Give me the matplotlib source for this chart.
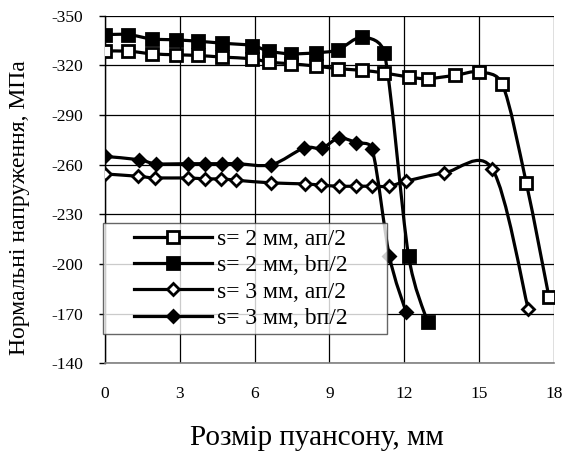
import numpy as np
import matplotlib
matplotlib.use("Agg")
import matplotlib.pyplot as plt
from matplotlib.path import Path
from matplotlib.patches import PathPatch
from matplotlib.lines import Line2D
from matplotlib.legend_handler import HandlerLine2D

plt.rcParams['font.family'] = ['Liberation Serif', 'DejaVu Serif']

# ---- data ----
x_s2a = [0, 0.93, 1.87, 2.84, 3.73, 4.69, 5.89, 6.56, 7.44, 8.44, 9.33, 10.31, 11.2, 12.17, 12.93, 14.04, 15.0, 15.93, 16.89, 17.8]
y_s2a = [-328.6, -328.6, -327, -326.4, -326, -325, -324, -322, -321, -319.6, -318, -317, -315.4, -313, -312, -314, -316, -308.6, -249, -180]

x_s2b = [0, 0.93, 1.87, 2.84, 3.73, 4.69, 5.89, 6.56, 7.44, 8.44, 9.33, 10.31, 11.2, 12.17, 12.93]
y_s2b = [-338.6, -338.6, -336, -335.4, -334.6, -333.4, -332, -328.6, -327, -327.6, -329.4, -337, -327.4, -205, -165]

x_s3a = [0, 1.33, 2.0, 3.33, 4.0, 4.67, 5.27, 6.67, 8.0, 8.67, 9.37, 10.07, 10.71, 11.4, 12.07, 13.6, 15.53, 16.97]
y_s3a = [-254.4, -253, -252, -252, -251.4, -251.4, -250.6, -249, -248.4, -247.6, -247, -247, -247, -247, -250, -255, -257.4, -172.6]

x_s3b = [0, 1.37, 2.03, 3.33, 4.0, 4.69, 5.31, 6.67, 7.97, 8.69, 9.37, 10.07, 10.71, 11.4, 12.07]
y_s3b = [-265, -263, -260.6, -260.6, -260.6, -260.6, -260.6, -260, -270, -270, -276, -273.4, -269.4, -205, -171]

labels = ["s= 2 мм, ап/2", "s= 2 мм, bп/2", "s= 3 мм, ап/2", "s= 3 мм, bп/2"]
x_ticks = [0, 3, 6, 9, 12, 15, 18]
y_ticks = [-350, -320, -290, -260, -230, -200, -170, -140]


fig = plt.figure(figsize=(5.67, 4.53), dpi=100)
ax = fig.add_axes([0.1852, 0.198, 0.977 - 0.1852, 0.9653 - 0.198])
ax.set_xlim(x_ticks[0], x_ticks[-1])
ax.set_ylim(y_ticks[-1], y_ticks[0])


def smooth_path(xs, ys):
    """Excel-like smoothed line: cubic Bezier segments built in display space."""
    pd = ax.transData.transform(np.column_stack([xs, ys]).astype(float))
    n = len(pd)
    inv = ax.transData.inverted()
    verts = [pd[0]]
    codes = [Path.MOVETO]
    for i in range(n - 1):
        p0 = pd[i - 1] if i > 0 else pd[i]
        p1 = pd[i]
        p2 = pd[i + 1]
        p3 = pd[i + 2] if i + 2 < n else pd[i + 1]
        d12 = np.hypot(*(p2 - p1))
        d02 = np.hypot(*(p2 - p0))
        d13 = np.hypot(*(p3 - p1))
        f1 = min(1 / 6, d12 / (2 * d02)) if d02 > 0 else 0
        f2 = min(1 / 6, d12 / (2 * d13)) if d13 > 0 else 0
        c1 = p1 + (p2 - p0) * f1
        c2 = p2 - (p3 - p1) * f2
        verts += [c1, c2, p2]
        codes += [Path.CURVE4] * 3
    return Path(inv.transform(np.array(verts)), codes)


series = [
    (x_s2a, y_s2a, 's', 'white', 8.3),
    (x_s2b, y_s2b, 's', 'black', 8.3),
    (x_s3a, y_s3a, 'D', 'white', 6.5),
    (x_s3b, y_s3b, 'D', 'black', 6.5),
]
handles = []
for k, ((xs, ys, m, fc, ms), lab) in enumerate(zip(series, labels)):
    z = 10 - 2 * k
    patch = PathPatch(smooth_path(xs, ys), fill=False, edgecolor='black', lw=2.3, zorder=z)
    ax.add_patch(patch)
    ax.plot(xs, ys, ls='none', marker=m, ms=ms, mfc=fc, mec='black', mew=2.0, zorder=z + 1)
    handles.append(Line2D([], [], color='black', lw=2.3, marker=m, ms=ms, mfc=fc, mec='black', mew=2.0))

ax.set_xticks(x_ticks)
ax.set_yticks(y_ticks)
ax.set_xticklabels([str(t) for t in x_ticks])
ax.set_yticklabels([str(t) for t in y_ticks])
ax.grid(True, color='black', lw=0.9, zorder=0)
ax.set_axisbelow(True)
for s in ['top', 'right']:
    ax.spines[s].set_visible(False)
ax.spines['left'].set_color('black')
ax.spines['left'].set_linewidth(1.0)
ax.spines['bottom'].set_color('#808080')
ax.spines['bottom'].set_linewidth(1.2)
ax.tick_params(axis='y', direction='out', length=4, width=1, pad=12, labelsize=12.5)
ax.tick_params(axis='x', length=0, pad=16, labelsize=12.5)

fs = 17
leg = ax.legend(handles, labels, loc='lower left',
                bbox_to_anchor=(-0.0045, 0.084, 0.6325, 0.32), mode='expand',
                fontsize=fs, frameon=True, fancybox=False, handlelength=4.4,
                handletextpad=0.2, labelspacing=0.2, borderpad=0.22, borderaxespad=0,
                handler_map={Line2D: HandlerLine2D(xpad=1.09)})
leg.get_frame().set_edgecolor('#404040')
leg.get_frame().set_linewidth(1.0)
leg.set_zorder(20)

fig.text(20 / 567, 1 - 208 / 453, "Нормальні напруження, МПа", rotation=90,
         ha='center', va='center', fontsize=17)
fig.text(317 / 567, 1 - 445 / 453, "Розмір пуансону, мм", ha='center', va='baseline', fontsize=21)

fig.savefig("out.png", dpi=100)
